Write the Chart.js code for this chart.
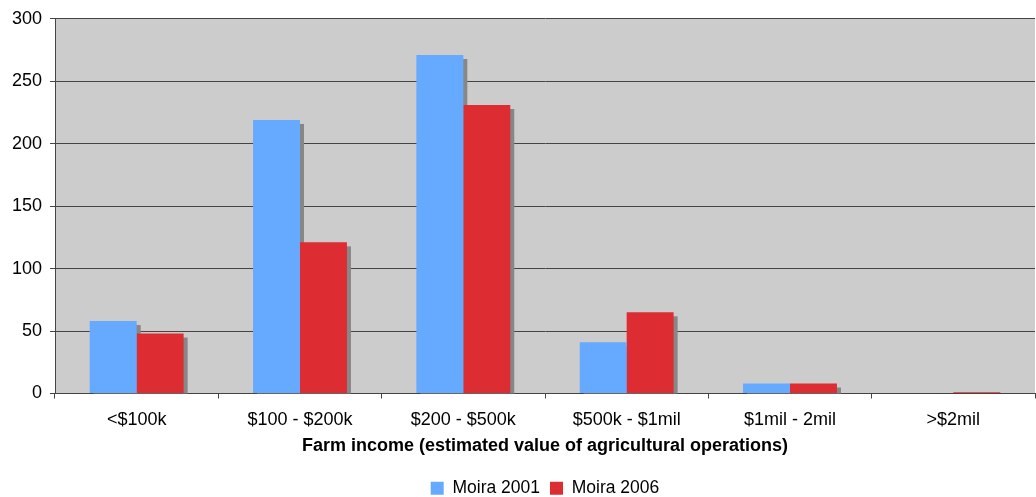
<!DOCTYPE html>
<html>
<head>
<meta charset="utf-8">
<script src="https://cdn.jsdelivr.net/npm/chart.js@4"></script>
<style>
  html, body { margin: 0; padding: 0; background: #fff; }
  #wrap { width: 1036px; height: 497px; }
</style>
</head>
<body>
<div id="wrap"><canvas id="incomeChart" width="1036" height="497"></canvas></div>
<script>
const categories = ['<$100k', '$100 - $200k', '$200 - $500k', '$500k - $1mil', '$1mil - 2mil', '>$2mil'];
const moira2001 = [58, 219, 271, 41, 8, 0];
const moira2006 = [48, 121, 231, 65, 8, 1];
const yTicks = [0, 50, 100, 150, 200, 250, 300];

const FONT = 'Liberation Sans, Arial, sans-serif';

// grey plot background
const plotBg = {
  id: 'plotBg',
  beforeDraw(chart) {
    const a = chart.chartArea, ctx = chart.ctx;
    ctx.save();
    ctx.fillStyle = '#cccccc';
    ctx.fillRect(a.left, a.top, a.right - a.left, a.bottom - a.top);
    ctx.restore();
  }
};

// flat drop shadow behind every bar
const barShadow = {
  id: 'barShadow',
  beforeDatasetsDraw(chart) {
    const ctx = chart.ctx, a = chart.chartArea;
    ctx.save();
    ctx.beginPath();
    ctx.rect(a.left, a.top, a.right - a.left, a.bottom - a.top);
    ctx.clip();
    ctx.fillStyle = '#878787';
    chart.data.datasets.forEach((ds, i) => {
      chart.getDatasetMeta(i).data.forEach(bar => {
        const w = bar.width;
        const h = bar.base - bar.y;
        if (h <= 0) return;
        ctx.fillRect(bar.x - w / 2 + 4, bar.y + 4, w, h);
      });
    });
    ctx.restore();
  }
};

new Chart(document.getElementById('incomeChart'), {
  type: 'bar',
  data: {
    labels: categories,
    datasets: [
      { label: 'Moira 2001', data: moira2001, backgroundColor: '#66aaff' },
      { label: 'Moira 2006', data: moira2006, backgroundColor: '#de2c33' }
    ]
  },
  options: {
    responsive: false,
    animation: false,
    layout: { padding: { top: 17, right: 1, left: 0, bottom: -10 } },
    datasets: { bar: { categoryPercentage: 0.575, barPercentage: 1 } },
    plugins: {
      legend: {
        position: 'bottom',
        fullSize: false,
        labels: {
          boxWidth: 13, boxHeight: 13, padding: 10,
          color: '#000',
          font: { family: FONT, size: 17.5 }
        }
      },
      tooltip: { enabled: false }
    },
    scales: {
      x: {
        afterFit(axis) { axis.height = 76; },
        grid: { drawOnChartArea: false, tickLength: 5, color: '#444' },
        border: { color: '#444' },
        ticks: { color: '#000', padding: 11, font: { family: FONT, size: 18 } },
        title: {
          display: true,
          text: 'Farm income (estimated value of agricultural operations)',
          color: '#000',
          padding: { top: 4, bottom: 13 },
          font: { family: FONT, size: 18, weight: 'bold' }
        }
      },
      y: {
        min: 0, max: 300,
        afterBuildTicks(axis) { axis.ticks = yTicks.map(v => ({ value: v })); },
        afterFit(axis) { axis.width = 55; },
        grid: { color: '#444', tickLength: 5 },
        border: { color: '#444' },
        ticks: { color: '#000', padding: 8, font: { family: FONT, size: 18 } }
      }
    }
  },
  plugins: [plotBg, barShadow]
});
</script>
</body>
</html>
